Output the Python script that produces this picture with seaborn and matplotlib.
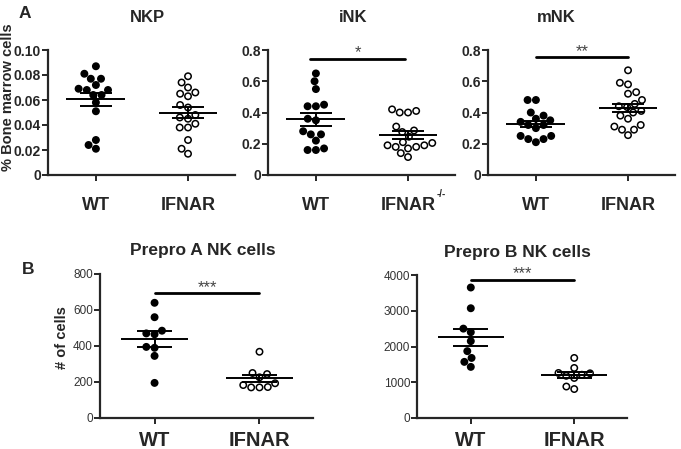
import numpy as np
import pandas as pd
import seaborn as sns
import matplotlib.pyplot as plt

# NKP (% bone marrow cells)
nkp_wt = [0.087, 0.081, 0.077, 0.077, 0.072, 0.069, 0.068, 0.068, 0.064, 0.064,
          0.058, 0.051, 0.028, 0.024, 0.021]
nkp_ko = [0.079, 0.074, 0.070, 0.066, 0.065, 0.063, 0.056, 0.054, 0.048, 0.046,
          0.045, 0.041, 0.038, 0.038, 0.028, 0.021, 0.017]
# iNK
ink_wt = [0.65, 0.60, 0.55, 0.45, 0.44, 0.44, 0.36, 0.35, 0.28, 0.26, 0.26,
          0.22, 0.17, 0.16, 0.16]
ink_ko = [0.42, 0.41, 0.40, 0.40, 0.31, 0.285, 0.275, 0.245, 0.21, 0.205, 0.19,
          0.19, 0.18, 0.18, 0.17, 0.14, 0.115]
# mNK
mnk_wt = [0.48, 0.48, 0.40, 0.38, 0.36, 0.35, 0.34, 0.32, 0.32, 0.30, 0.25,
          0.25, 0.23, 0.23, 0.21]
mnk_ko = [0.67, 0.59, 0.58, 0.53, 0.52, 0.48, 0.455, 0.44, 0.435, 0.41, 0.40,
          0.38, 0.36, 0.32, 0.31, 0.29, 0.29, 0.255]
# Prepro A / B (# of cells)
ppa_wt = [640, 560, 485, 470, 465, 395, 390, 345, 195]
ppa_ko = [368, 250, 244, 226, 193, 183, 172, 170, 170]
ppb_wt = [3650, 3070, 2500, 2400, 2150, 1870, 1680, 1570, 1430]
ppb_ko = [1680, 1400, 1260, 1250, 1210, 1180, 1120, 880, 810]

groups = ['WT', 'IFNAR']
nkp_ticks = [0, 0.02, 0.04, 0.06, 0.08, 0.10]
nkp_ticklabels = ['0', '0.02', '0.04', '0.06', '0.08', '0.10']
nk_ticks = [0, 0.2, 0.4, 0.6, 0.8]
nk_ticklabels = ['0', '0.2', '0.4', '0.6', '0.8']
ppa_ticks = [0, 200, 400, 600, 800]
ppb_ticks = [0, 1000, 2000, 3000, 4000]

sns.set_style('ticks')
plt.rcParams['font.family'] = ['Liberation Sans', 'DejaVu Sans']
plt.rcParams['axes.linewidth'] = 1.6

W, H = 681, 449
fig = plt.figure(figsize=(W / 100, H / 100), dpi=100)


def px_axes(left, top, right, bottom):
    return fig.add_axes([left / W, 1 - bottom / H, (right - left) / W, (bottom - top) / H])


def draw_panel(ax, wt, ko, xlabels, ticks, ticklabels, panel_a):
    df = pd.DataFrame({'group': ['WT'] * len(wt) + ['IFNAR'] * len(ko),
                       'value': wt + ko})
    sns.swarmplot(data=df, x='group', y='value', hue='group', order=groups,
                  palette={'WT': 'black', 'IFNAR': 'white'}, edgecolor='black',
                  linewidth=1.1, size=4.6, legend=False, ax=ax, zorder=2)
    for i, vals in enumerate([wt, ko]):
        m = np.mean(vals)
        se = np.std(vals, ddof=1) / np.sqrt(len(vals))
        ax.hlines(m, i - 0.32, i + 0.32, color='black', lw=1.4, zorder=3)
        ax.hlines([m - se, m + se], i - 0.17, i + 0.17, color='black', lw=1.4, zorder=3)
        ax.vlines(i, m - se, m + se, color='black', lw=1.4, zorder=3)
    sns.despine(ax=ax)
    ax.set_xlim(-0.52, 1.51)
    ax.set_ylim(0, ticks[-1])
    ax.set_yticks(ticks)
    ax.set_xticks([0, 1])
    ax.set_xlabel('')
    ax.set_ylabel('')
    if panel_a:
        ax.set_yticklabels(ticklabels, fontsize=10, fontweight='bold')
        ax.set_xticklabels(xlabels, fontsize=13, fontweight='bold')
        ax.tick_params(axis='x', length=4, width=1.4, pad=12)
        ax.tick_params(axis='y', length=4, width=1.4, pad=1)
    else:
        ax.set_yticklabels(ticklabels, fontsize=8.5, color='#333333')
        ax.set_xticklabels(xlabels, fontsize=14.5, fontweight='bold')
        ax.tick_params(axis='x', length=4, width=1.4, pad=5)
        ax.tick_params(axis='y', length=4, width=1.4, pad=1)


def sig_bar(ax, x0, x1, y, stars):
    ax.plot([x0, x1], [y, y], color='black', lw=2, clip_on=False, zorder=3)
    ax.annotate(stars, xy=((x0 + x1) / 2, y), xytext=(0, 1), textcoords='offset points',
                ha='center', va='baseline', fontsize=12, color='#444444')


ax1 = px_axes(48, 50, 235, 175)
draw_panel(ax1, nkp_wt, nkp_ko, ['WT', 'IFNAR'], nkp_ticks, nkp_ticklabels, True)
ax1.set_ylabel('% Bone marrow cells', fontsize=10.5, fontweight='bold')
ax1.yaxis.set_label_coords(-0.175, 0.62)

ax2 = px_axes(268, 50, 455, 175)
draw_panel(ax2, ink_wt, ink_ko, ['WT', 'IFNAR'], nk_ticks, nk_ticklabels, True)
# superscript of the knockout label
ax2.annotate('-/-', xy=(1, 0), xycoords=('data', 'axes fraction'), xytext=(20.5, -14),
             textcoords='offset points', ha='left', va='center', fontsize=7,
             fontweight='bold', annotation_clip=False)
sig_bar(ax2, -0.06, 0.97, 0.745, '*')

ax3 = px_axes(488, 50, 675, 175)
draw_panel(ax3, mnk_wt, mnk_ko, ['WT', 'IFNAR'], nk_ticks, nk_ticklabels, True)
sig_bar(ax3, 0.0, 1.0, 0.755, '**')

ax4 = px_axes(100, 274, 313, 418)
draw_panel(ax4, ppa_wt, ppa_ko, ['WT', 'IFNAR'], ppa_ticks, [str(t) for t in ppa_ticks], False)
ax4.set_ylabel('# of cells', fontsize=10.5, fontweight='bold')
ax4.yaxis.set_label_coords(-0.145, 0.56)
sig_bar(ax4, 0.0, 1.0, 694, '***')

ax5 = px_axes(417, 275, 627, 418)
draw_panel(ax5, ppb_wt, ppb_ko, ['WT', 'IFNAR'], ppb_ticks, [str(t) for t in ppb_ticks], False)
sig_bar(ax5, 0.0, 1.0, 3860, '***')

# titles and panel letters
titles = [('NKP', 147, 18, 12), ('iNK', 353, 18, 12), ('mNK', 556, 18, 12),
          ('Prepro A NK cells', 203, 251, 12.5), ('Prepro B NK cells', 517, 252, 12.5)]
for txt, x, y, fs in titles:
    fig.text(x / W, 1 - y / H, txt, ha='center', va='center', fontsize=fs, fontweight='bold')
fig.text(25 / W, 1 - 13 / H, 'A', ha='center', va='center', fontsize=12.5, fontweight='bold')
fig.text(28 / W, 1 - 269 / H, 'B', ha='center', va='center', fontsize=12.5, fontweight='bold')

fig.savefig('out.png', dpi=100)
